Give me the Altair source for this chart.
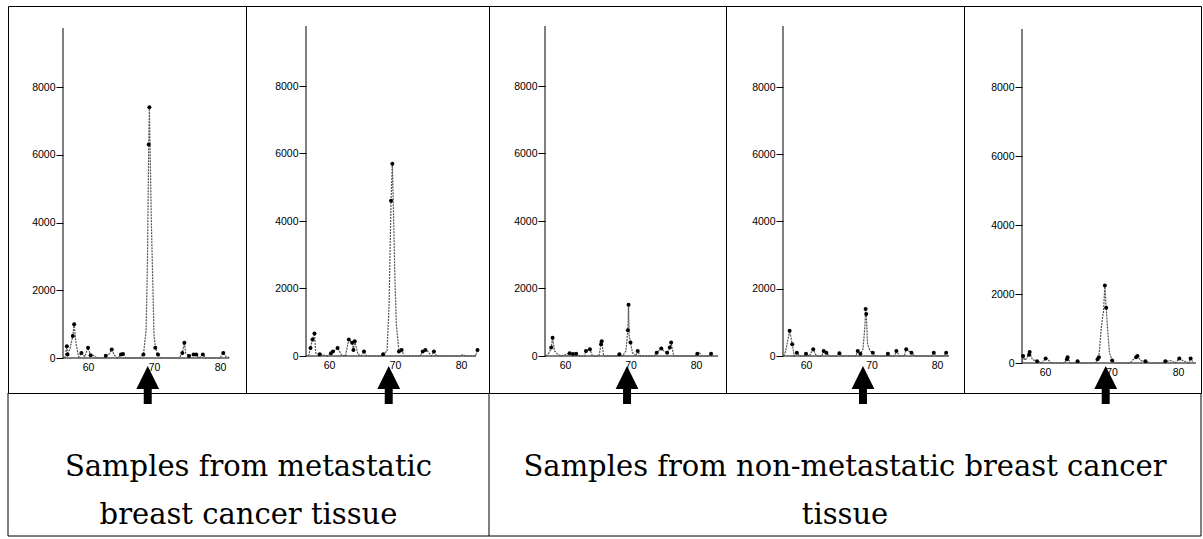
import altair as alt
import pandas as pd

# ---------------- data ----------------
x1 = [56.5, 56.8, 56.9, 57.3, 57.7, 57.9, 58.2, 58.6, 59.0, 59.5, 60.0, 60.4, 60.9, 61.4, 62.4, 62.7, 63.2, 63.6, 64.0, 64.5,
      65.0, 65.3, 65.7, 67.8, 68.4, 68.8, 69.0, 69.2, 69.3, 69.6, 70.0, 70.2, 70.6, 71.0, 73.8, 74.3, 74.6, 74.8, 75.3, 76.0,
      76.4, 76.8, 77.4, 77.8, 80.0, 80.5, 80.9, 81.6]
y1 = [0, 350, 100, 300, 650, 1000, 400, 30, 150, 40, 300, 80, 70, 0, 0, 70, 120, 250, 80, 0,
      100, 120, 0, 0, 100, 800, 2700, 6300, 7400, 4000, 700, 300, 100, 0, 0, 150, 450, 150, 60, 100,
      100, 0, 100, 0, 0, 150, 40, 0]
dot_x1 = [56.8, 56.9, 57.7, 57.9, 59.0, 60.0, 60.4, 62.7, 63.6, 65.0, 65.3, 68.4, 69.2, 69.3, 70.2, 70.6, 74.3, 74.6, 75.3, 76.0, 76.4, 77.4, 80.5]
dot_y1 = [350, 100, 650, 1000, 150, 300, 80, 70, 250, 100, 120, 100, 6300, 7400, 300, 100, 150, 450, 60, 100, 100, 100, 150]

x2 = [56.9, 57.2, 57.5, 57.8, 58.0, 58.6, 59.1, 59.8, 60.3, 60.6, 61.3, 61.9, 62.5, 63.0, 63.5, 63.7, 63.9, 64.4, 64.9, 65.3,
      65.7, 67.8, 68.2, 68.8, 69.1, 69.4, 69.6, 69.8, 70.0, 70.2, 70.6, 71.0, 71.4, 73.8, 74.2, 74.6, 75.0, 75.5, 75.9, 76.3,
      79.8, 80.2, 81.0, 82.2, 82.5]
y2 = [0, 240, 490, 670, 80, 50, 30, 0, 80, 130, 240, 30, 0, 490, 390, 180, 440, 50, 0, 130,
      0, 0, 50, 150, 1500, 4600, 5700, 4000, 2200, 950, 130, 180, 0, 0, 130, 180, 130, 0, 130, 0,
      0, 30, 0, 0, 180]
dot_x2 = [57.2, 57.5, 57.8, 58.6, 60.3, 60.6, 61.3, 63.0, 63.5, 63.7, 63.9, 65.3, 68.2, 69.4, 69.6, 70.6, 71.0, 74.2, 74.6, 75.9, 82.5]
dot_y2 = [240, 490, 670, 50, 80, 130, 240, 490, 390, 180, 440, 130, 50, 4600, 5700, 130, 180, 130, 180, 130, 180]

x3 = [57.1, 57.6, 57.9, 58.1, 58.4, 58.9, 59.4, 60.7, 61.2, 61.7, 62.2, 63.0, 63.2, 63.8, 64.2, 65.2, 65.5, 65.6, 65.9, 67.9,
      68.3, 68.8, 69.3, 69.6, 69.7, 69.8, 70.0, 70.3, 70.8, 71.1, 71.5, 73.6, 74.0, 74.7, 75.1, 75.6, 76.0, 76.2, 76.6, 79.8,
      80.2, 80.5, 80.9, 81.9, 82.3]
y3 = [0, 100, 250, 540, 150, 50, 0, 80, 60, 70, 0, 0, 150, 200, 0, 0, 350, 440, 0, 0,
      50, 0, 150, 760, 1520, 600, 400, 100, 0, 150, 0, 0, 100, 220, 150, 100, 250, 400, 0, 0,
      70, 100, 0, 0, 70]
dot_x3 = [57.9, 58.1, 60.7, 61.2, 61.7, 63.2, 63.8, 65.5, 65.6, 68.3, 69.6, 69.7, 70.0, 71.1, 74.0, 74.7, 75.6, 76.0, 76.2, 80.2, 82.3]
dot_y3 = [250, 540, 80, 60, 70, 150, 200, 350, 440, 50, 760, 1520, 400, 150, 100, 220, 100, 250, 400, 70, 70]

x4 = [56.6, 56.9, 57.2, 57.5, 57.9, 58.2, 58.6, 59.1, 59.7, 60.0, 60.5, 61.1, 61.6, 62.4, 62.7, 63.1, 63.6, 64.7, 65.1, 65.5,
      67.6, 67.9, 68.3, 68.7, 69.0, 69.1, 69.2, 69.4, 69.8, 70.2, 70.6, 72.2, 72.5, 72.9, 73.5, 73.8, 74.3, 75.0, 75.3, 76.1,
      76.6, 79.2, 79.5, 79.9, 81.1, 81.4, 81.7]
y4 = [0, 150, 450, 750, 350, 0, 100, 0, 0, 70, 0, 200, 0, 0, 150, 100, 0, 0, 80, 0,
      0, 150, 70, 200, 900, 1400, 1250, 350, 150, 100, 0, 0, 70, 0, 0, 150, 0, 0, 200, 100,
      0, 0, 100, 0, 0, 100, 0]
dot_x4 = [57.5, 57.9, 58.6, 60.0, 61.1, 62.7, 63.1, 65.1, 67.9, 68.3, 69.1, 69.2, 70.2, 72.5, 73.8, 75.3, 76.1, 79.5, 81.4]
dot_y4 = [750, 350, 100, 70, 200, 150, 100, 80, 150, 70, 1400, 1250, 100, 70, 150, 200, 100, 100, 100]

x5 = [56.6, 56.7, 57.0, 57.6, 57.7, 58.1, 58.8, 59.5, 60.1, 60.5, 61.0, 62.9, 63.3, 63.4, 63.8, 64.6, 64.9, 65.3, 67.6, 67.9,
      68.1, 68.5, 68.8, 69.0, 69.2, 69.4, 69.7, 70.1, 70.5, 72.8, 73.1, 73.7, 73.9, 74.4, 75.1, 75.8, 77.8, 78.1, 78.9, 79.6,
      80.2, 80.9, 81.6, 81.9, 82.2]
y5 = [0, 200, 80, 240, 320, 100, 50, 0, 130, 80, 0, 0, 110, 170, 0, 0, 50, 0, 0, 110,
      170, 1100, 1500, 2250, 1600, 1000, 300, 70, 0, 0, 70, 170, 200, 70, 50, 0, 0, 50, 70, 0,
      130, 50, 0, 130, 40]
dot_x5 = [56.7, 57.6, 57.7, 58.8, 60.1, 63.3, 63.4, 64.9, 67.9, 68.1, 69.0, 69.2, 70.1, 73.7, 73.9, 75.1, 78.1, 80.2, 81.9]
dot_y5 = [200, 240, 320, 50, 130, 110, 170, 50, 110, 170, 2250, 1600, 70, 170, 200, 50, 50, 130, 130]

arrow_x = [69.05, 69.05, 69.47, 68.70, 69.13]
x_ticks = [60, 70, 80]
y_ticks = [0, 2000, 4000, 6000, 8000]
group_1_lines = ["Samples from metastatic", "breast cancer tissue"]
group_2_lines = ["Samples from non-metastatic breast cancer", "tissue"]

line_x = [x1, x2, x3, x4, x5]
line_y = [y1, y2, y3, y4, y5]
dots_x = [dot_x1, dot_x2, dot_x3, dot_x4, dot_x5]
dots_y = [dot_y1, dot_y2, dot_y3, dot_y4, dot_y5]

# ---------------- layout (pixels measured on the reference) ----------------
TOP, SPLIT, BOTTOM, LEFT, RIGHT, MID = 5, 392, 535, 7, 1200, 488
cell_l = [7, 245, 488, 725, 963]
cell_r = [245, 488, 725, 963, 1200]
px60 = [87, 328, 564, 805, 1044]
px80 = [219, 460, 695, 936, 1177]
yaxis_px = [62, 305, 544, 782, 1021]
xaxis_end_px = [228, 475, 717, 948, 1195]
y0_px = [357, 355, 355, 355, 362]
y8000_px = [86, 85, 85, 86, 86]
yaxis_top_px = [27, 25, 25, 25, 28]
ARROW_Y = 384 - TOP
ARROW = "M0,-1L0.6,0.21L0.21,0.21L0.21,1L-0.21,1L-0.21,0.21L-0.6,0.21Z"
TICK_FONT = "Liberation Sans"
TEXT_FONT = "DejaVu Serif"
H = SPLIT - TOP          # height of the chromatogram row
HB = BOTTOM - TOP        # full table height (bottom row drawn below the views)


def hrule(x0, x1_, y):
    return alt.Chart(alt.Data(values=[{}])).mark_rule(color="black", strokeWidth=1).encode(
        x=alt.value(x0), x2=alt.value(x1_), y=alt.value(y))


def vrule(x, y0, y1_):
    return alt.Chart(alt.Data(values=[{}])).mark_rule(color="black", strokeWidth=1).encode(
        x=alt.value(x), y=alt.value(y0), y2=alt.value(y1_))


def group_text(lines, cx):
    df = pd.DataFrame({"label": ["\n".join(lines)]})
    return alt.Chart(df).mark_text(font=TEXT_FONT, fontSize=29, lineBreak="\n", lineHeight=48,
                                   align="center", baseline="alphabetic", color="black").encode(
        text="label:N", x=alt.value(cx), y=alt.value(475 - TOP))


def panel(i):
    L, R = cell_l[i], cell_r[i]
    W = R - L
    kx = (px80[i] - px60[i]) / 20.0
    xmin = 60 - (px60[i] - L) / kx
    xmax = xmin + W / kx
    ky = (y0_px[i] - y8000_px[i]) / 8000.0
    ymin = -(SPLIT - y0_px[i]) / ky
    ymax = (y0_px[i] - TOP) / ky
    xs = alt.Scale(domain=[xmin, xmax], nice=False, zero=False)
    ys = alt.Scale(domain=[ymin, ymax], nice=False, zero=False)
    xaxis = alt.Axis(values=x_ticks, format="d", grid=False, domain=False, title=None,
                     ticks=False, labelPadding=4, labelFlush=False,
                     labelOverlap=False, labelFont=TICK_FONT, labelFontSize=10.5,
                     labelColor="black", offset=-(SPLIT - y0_px[i]))
    yaxis = alt.Axis(values=y_ticks, format="d", grid=False, domain=False, title=None,
                     tickSize=7, tickColor="black", labelPadding=1, labelFlush=False,
                     labelOverlap=False, labelFont=TICK_FONT, labelFontSize=10.5,
                     labelColor="black", offset=-(yaxis_px[i] - L))
    X = alt.X("t:Q", scale=xs, axis=xaxis)
    Y = alt.Y("v:Q", scale=ys, axis=yaxis)

    layers = [
        vrule(yaxis_px[i] - L, yaxis_top_px[i] - TOP, y0_px[i] - TOP),
        hrule(yaxis_px[i] - L, xaxis_end_px[i] - L, y0_px[i] - TOP),
        hrule(0, W, HB),
    ]
    if L == LEFT or L == MID:
        layers.append(vrule(0, H, HB))
    if R == RIGHT:
        layers.append(vrule(W, H, HB))
    if L == LEFT:
        layers.append(group_text(group_1_lines, (LEFT + MID) / 2 - L))
    if L == MID:
        layers.append(group_text(group_2_lines, (MID + RIGHT) / 2 - L))

    line_df = pd.DataFrame({"t": line_x[i], "v": line_y[i]})
    dot_df = pd.DataFrame({"t": dots_x[i], "v": dots_y[i]})
    arrow_df = pd.DataFrame({"t": [arrow_x[i]]})

    trace = alt.Chart(line_df).mark_line(color="#555555", strokeWidth=1.2, strokeDash=[2, 1]).encode(x=X, y=Y)
    dots = alt.Chart(dot_df).mark_circle(color="black", size=16, opacity=1).encode(x=X, y=Y)
    arrow = alt.Chart(arrow_df).mark_point(shape=ARROW, filled=True, size=1444, color="black",
                                           opacity=1, strokeWidth=0).encode(x=X, y=alt.value(ARROW_Y))
    layers += [trace, dots, arrow]
    return alt.layer(*layers).properties(width=W, height=H)


chart = alt.hconcat(*[panel(i) for i in range(5)], spacing=0, bounds="flush").properties(
    padding={"left": LEFT, "top": TOP, "right": 0, "bottom": 0},
    background="white",
).configure_view(stroke="black", strokeWidth=1)

chart.save("out.html", embed_options={"renderer": "svg", "actions": False})
